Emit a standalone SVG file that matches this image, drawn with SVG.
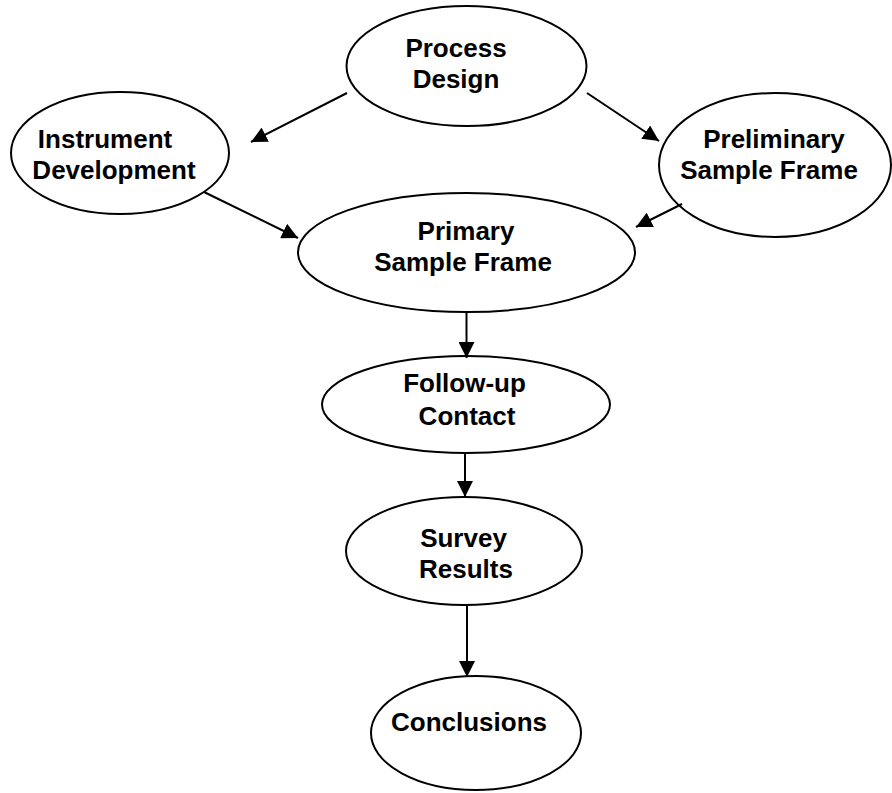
<svg xmlns="http://www.w3.org/2000/svg" width="892" height="793" viewBox="0 0 892 793">
<style>
.n ellipse{fill:#fff;stroke:#000;stroke-width:2}
.n text{font-family:"Liberation Sans",Arial,sans-serif;font-weight:bold;font-size:26px;fill:#000;text-anchor:middle}
.c line{stroke:#000;stroke-width:2;marker-end:url(#ah)}
</style>
<defs>
<marker id="ah" markerUnits="userSpaceOnUse" markerWidth="16" markerHeight="16" viewBox="0 0 16 16" refX="16" refY="8" orient="auto">
<path d="M0,0 L16,8 L0,16 Z" fill="#000"/>
</marker>
</defs>
<rect width="892" height="793" fill="#fff"/>
<g id="process-design" class="n">
<ellipse cx="466.5" cy="66" rx="120" ry="60"/>
<text x="456" y="57">Process</text>
<text x="456" y="88">Design</text>
</g>
<g id="instrument-development" class="n">
<ellipse cx="120" cy="153" rx="109" ry="61"/>
<text x="105" y="148">Instrument</text>
<text x="114" y="179">Development</text>
</g>
<g id="preliminary-sample-frame" class="n">
<ellipse cx="775" cy="165" rx="116" ry="72"/>
<text x="774" y="148">Preliminary</text>
<text x="769" y="179">Sample Frame</text>
</g>
<g id="primary-sample-frame" class="n">
<ellipse cx="466.5" cy="252.5" rx="168.5" ry="59.5"/>
<text x="466" y="240">Primary</text>
<text x="463" y="271">Sample Frame</text>
</g>
<g id="follow-up-contact" class="n">
<ellipse cx="466" cy="404.5" rx="144" ry="48.5"/>
<text x="464.5" y="392">Follow-up</text>
<text x="467" y="425">Contact</text>
</g>
<g id="survey-results" class="n">
<ellipse cx="464" cy="551" rx="118" ry="54"/>
<text x="463.5" y="547">Survey</text>
<text x="466" y="578">Results</text>
</g>
<g id="conclusions" class="n">
<ellipse cx="476" cy="733" rx="105" ry="57"/>
<text x="469" y="731">Conclusions</text>
</g>
<g id="connectors" class="c">
<line x1="347" y1="93" x2="251" y2="142"/>
<line x1="587" y1="93" x2="659" y2="141"/>
<line x1="204" y1="192" x2="298" y2="238"/>
<line x1="682" y1="204" x2="636" y2="227"/>
<line x1="466.5" y1="312" x2="466.5" y2="358"/>
<line x1="465" y1="453" x2="465" y2="497"/>
<line x1="467" y1="605" x2="467" y2="677"/>
</g>
</svg>
